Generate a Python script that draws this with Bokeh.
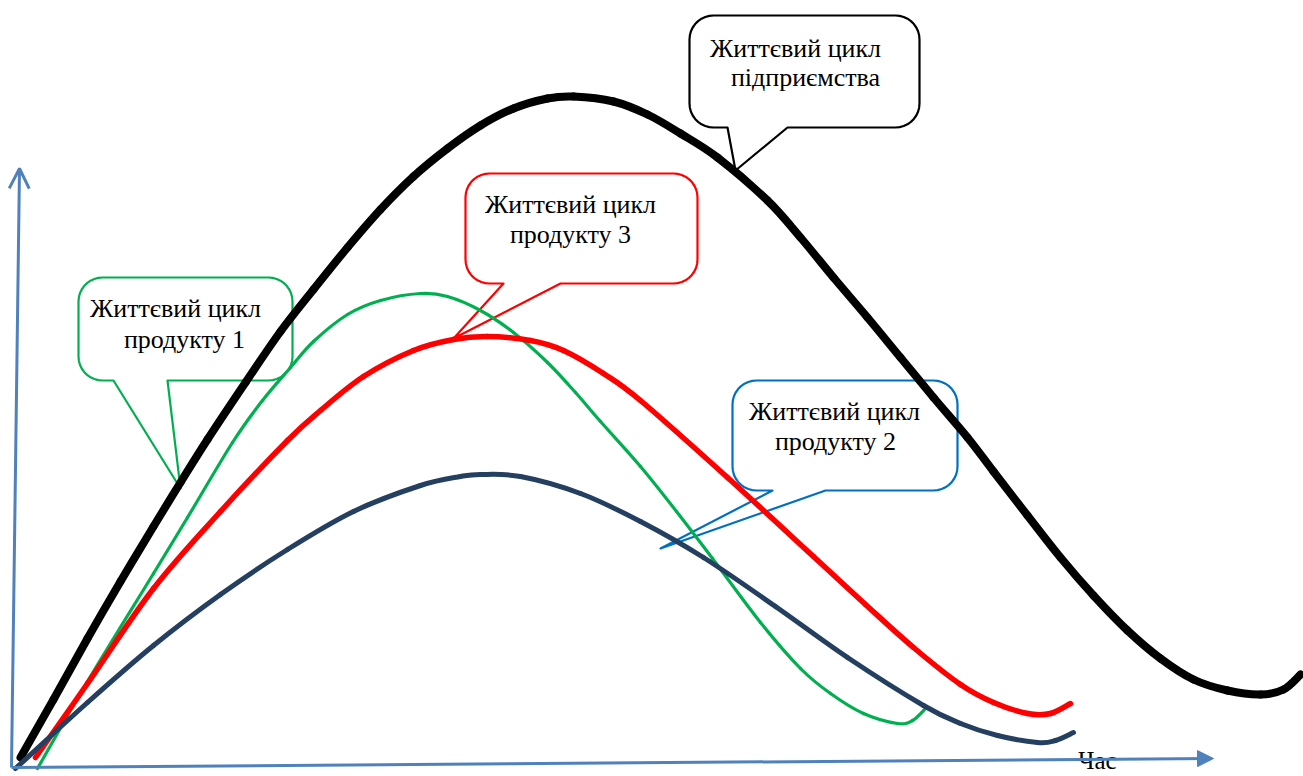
import numpy as np
from bokeh.plotting import figure
from bokeh.models import Range1d, Arrow, OpenHead, NormalHead, ColumnDataSource
from bokeh.core.properties import value
from bokeh.embed import file_html
from bokeh.resources import INLINE

# ---- curve data (time on x, level on y; y grows downward in this canvas) ----
firm_x = [20, 53, 87, 120, 153, 180, 207, 245, 280, 313, 347, 380, 413, 447, 480, 513,
          547, 573, 613, 647, 680, 717, 767, 800, 833, 867, 900, 933, 967, 993, 1027,
          1060, 1093, 1127, 1160, 1193, 1227, 1260, 1283, 1300]
firm_y = [757, 699, 638, 581, 526, 482, 439, 382, 331, 289, 247, 209, 176, 148, 125, 108,
          98, 96, 101, 114, 133, 157, 200, 237, 277, 317, 357, 397, 437, 471, 515,
          557, 595, 630, 658, 679, 690, 694, 689, 674]

p1_x = [37, 87, 153, 187, 232, 262, 290, 313, 347, 380, 420, 447, 480, 513, 547, 575,
        600, 640, 676, 712, 760, 800, 830, 863, 897, 912, 925]
p1_y = [768, 681, 573, 517, 442, 400, 367, 341, 314, 300, 293, 296, 310, 332, 362, 392,
        421, 466, 511, 558, 622, 668, 693, 713, 723, 720, 708]

p3_x = [35, 87, 153, 220, 287, 320, 363, 413, 453, 487, 530, 563, 603, 640, 727, 813,
        865, 913, 960, 993, 1027, 1050, 1070]
p3_y = [757, 683, 588, 511, 440, 410, 376, 350, 339, 336, 340, 350, 373, 400, 477, 556,
        604, 647, 684, 702, 713, 713, 703]

p2_x = [15, 87, 153, 220, 287, 353, 420, 460, 480, 520, 580, 640, 703, 775, 847, 923,
        960, 997, 1037, 1055, 1073]
p2_y = [768, 702, 645, 594, 549, 511, 485, 476, 474, 476, 493, 521, 557, 606, 657, 705,
        723, 735, 742, 740, 732]

# ---- callout labels ----
labels = [
    ["Життєвий цикл", "підприємства"],
    ["Життєвий цикл", "продукту 3"],
    ["Життєвий цикл", "продукту 1"],
    ["Життєвий цикл", "продукту 2"],
]
axis_label = "Час"

W, H = 1303, 776
p = figure(width=W, height=H, output_backend="svg", toolbar_location=None,
           x_range=Range1d(0, W), y_range=Range1d(H, 0), min_border=0)
p.axis.visible = False
p.grid.visible = False
p.outline_line_color = None
p.background_fill_color = "white"
p.border_fill_color = "white"

AX = "#4f81bd"
FONT = value("Liberation Serif")


def bubble(x0, x1, y0, y1, r, bl, br, tip, n=10):
    """Rounded rectangle outline with a pointer leaving the bottom edge."""
    xs, ys = [], []

    def arc(cx, cy, a0, a1):
        for a in np.linspace(a0, a1, n):
            xs.append(cx + r * np.cos(a))
            ys.append(cy + r * np.sin(a))

    arc(x0 + r, y0 + r, np.pi, 1.5 * np.pi)          # top-left
    arc(x1 - r, y0 + r, 1.5 * np.pi, 2 * np.pi)      # top-right
    arc(x1 - r, y1 - r, 0, 0.5 * np.pi)              # bottom-right
    xs += [br, tip[0], bl]
    ys += [y1, tip[1], y1]
    arc(x0 + r, y1 - r, 0.5 * np.pi, np.pi)          # bottom-left
    return xs, ys


def smooth_curve(xs, ys, **style):
    """Draw a smooth curve through the given points as cubic Bezier segments
    (Catmull-Rom tangents)."""
    P = np.column_stack([xs, ys]).astype(float)
    Q = np.vstack([P[0], P, P[-1]])
    a, b = Q[1:-2], Q[2:-1]
    c0 = a + (Q[2:-1] - Q[:-3]) / 6.0
    c1 = b - (Q[3:] - Q[1:-2]) / 6.0
    p.bezier(x0=a[:, 0], y0=a[:, 1], x1=b[:, 0], y1=b[:, 1],
             cx0=c0[:, 0], cy0=c0[:, 1], cx1=c1[:, 0], cy1=c1[:, 1],
             line_cap="round", **style)


callouts = [
    # box (x0, x1, y0, y1), pointer base left/right, tip, colour, line centres
    dict(box=(689, 919, 15, 127), bl=727, br=787, tip=(735, 170), color="black",
         tx=[795, 805], ty=[48, 77]),
    dict(box=(465, 697, 173, 283), bl=503, br=560, tip=(453, 338), color="#ff0000",
         tx=[570, 570], ty=[204, 234]),
    dict(box=(78, 292, 277, 380), bl=113, br=167, tip=(180, 488), color="#00b050",
         tx=[175, 184], ty=[308, 339]),
    dict(box=(732, 957, 380, 490), bl=772, br=825, tip=(660, 548), color="#0070c0",
         tx=[834, 835], ty=[411, 441]),
]

for c, lines in zip(callouts, labels):
    x0, x1, y0, y1 = c["box"]
    bx, by = bubble(x0, x1, y0, y1, 24, c["bl"], c["br"], c["tip"])
    p.patch(bx, by, fill_color="white", line_color=c["color"], line_width=2.2,
            line_join="round")
    src = ColumnDataSource(dict(x=c["tx"], y=c["ty"], t=lines))
    p.text(x="x", y="y", text="t", source=src, text_align="center",
           text_baseline="middle", text_font=FONT,
           text_font_size="26px", text_color="black")

# axes
p.add_layout(Arrow(end=OpenHead(size=20, line_color=AX, line_width=3),
                   x_start=11, y_start=767, x_end=19, y_end=168,
                   line_color=AX, line_width=3))
p.add_layout(Arrow(end=NormalHead(size=16, fill_color=AX, line_color=AX, line_width=1),
                   x_start=11, y_start=767, x_end=1213, y_end=758,
                   line_color=AX, line_width=3))
p.text(x=[1097], y=[760], text=[axis_label], text_align="center",
       text_baseline="middle", text_font=FONT,
       text_font_size="25px", text_color="black")

# life-cycle curves
smooth_curve(firm_x, firm_y, line_color="black", line_width=8)
smooth_curve(p1_x, p1_y, line_color="#00b050", line_width=3.2)
smooth_curve(p3_x, p3_y, line_color="#ff0000", line_width=5.5)
smooth_curve(p2_x, p2_y, line_color="#243f60", line_width=5)

open("out.html", "w").write(file_html(p, INLINE))
